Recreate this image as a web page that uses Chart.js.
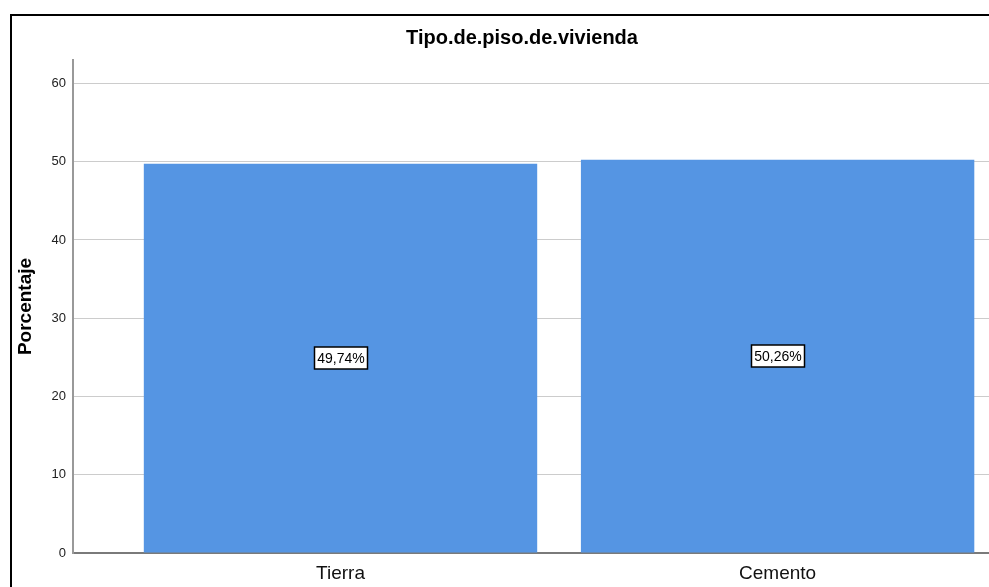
<!DOCTYPE html>
<html><head><meta charset="utf-8">
<script src="https://cdn.jsdelivr.net/npm/chart.js@4/dist/chart.umd.min.js"></script>
<style>
html,body{margin:0;padding:0;background:#fff;overflow:hidden;width:989px;height:587px;}
#frame{position:absolute;left:10px;top:14px;border-left:2px solid #000;border-top:2px solid #000;width:1020px;height:600px;background:#fff;}
canvas{display:block;}
</style></head><body>
<div id="frame"><canvas id="c" width="1020" height="577"></canvas></div>
<script>
const chartTitle = 'Tipo.de.piso.de.vivienda';
const categories = ['Tierra', 'Cemento'];
const percentages = [49.74, 50.26];
const yTickValues = [0, 10, 20, 30, 40, 50, 60];
const yAxisTitle = 'Porcentaje';

const FONT = '"Liberation Sans", Arial, sans-serif';

const valueBoxes = {
  id: 'valueBoxes',
  afterDatasetsDraw(chart) {
    const ctx = chart.ctx;
    const meta = chart.getDatasetMeta(0);
    ctx.save();
    ctx.font = '14px ' + FONT;
    ctx.textAlign = 'center';
    ctx.textBaseline = 'middle';
    meta.data.forEach((bar, i) => {
      const txt = percentages[i].toFixed(2).replace('.', ',') + '%';
      const w = Math.round(ctx.measureText(txt).width + 6);
      const h = 22;
      const cx = Math.round(bar.x), cy = Math.round((bar.y + bar.base) / 2);
      const x0 = cx - w / 2, y0 = cy - h / 2;
      ctx.fillStyle = '#fff';
      ctx.fillRect(x0, y0, w, h);
      ctx.strokeStyle = '#000';
      ctx.lineWidth = 1.5;
      ctx.strokeRect(x0, y0, w, h);
      ctx.fillStyle = '#000';
      ctx.fillText(txt, cx, cy + 1);
    });
    ctx.restore();
  }
};

new Chart(document.getElementById('c'), {
  type: 'bar',
  data: {
    datasets: [{
      data: categories.map((c, i) => ({ x: i + 1, y: percentages[i] })),
      backgroundColor: '#5595e3',
      borderWidth: 0,
      barPercentage: 0.9,
      categoryPercentage: 1.0
    }]
  },
  options: {
    responsive: false,
    animation: false,
    devicePixelRatio: 1,
    layout: { padding: 0 },
    plugins: {
      legend: { display: false },
      tooltip: { enabled: false },
      title: {
        display: true,
        text: chartTitle,
        color: '#000',
        font: { family: FONT, size: 20, weight: 'bold' },
        padding: { top: 10, bottom: 10 }
      }
    },
    scales: {
      x: {
        type: 'linear',
        offset: false,
        min: 0.388,
        max: 2.582,
        grid: { display: false, drawTicks: false, offset: false },
        border: { display: true, color: '#7a7a7a', width: 2 },
        afterBuildTicks: s => { s.ticks = categories.map((c, i) => ({ value: i + 1 })); },
        afterFit: s => { s.height = 40; },
        ticks: {
          autoSkip: false,
          maxRotation: 0,
          padding: 9,
          color: '#111',
          font: { family: FONT, size: 19 },
          callback: v => categories[Math.round(v) - 1]
        }
      },
      y: {
        min: 0,
        max: 63,
        grid: { color: '#cccccc', lineWidth: 1, drawTicks: false },
        border: { display: true, color: '#999999', width: 2 },
        afterBuildTicks: s => { s.ticks = yTickValues.map(v => ({ value: v })); },
        afterFit: s => { s.width = 61; },
        ticks: {
          padding: 7,
          color: '#222',
          font: { family: FONT, size: 13 }
        },
        title: {
          display: true,
          text: yAxisTitle,
          color: '#000',
          font: { family: FONT, size: 19, weight: 'bold' },
          padding: { top: 2, bottom: 0 }
        }
      }
    }
  },
  plugins: [valueBoxes]
});
</script>
</body></html>
